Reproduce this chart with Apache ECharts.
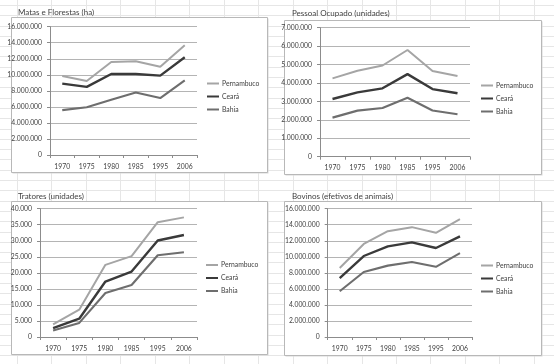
<!DOCTYPE html>
<html>
<head>
<meta charset="utf-8">
<script src="https://cdn.jsdelivr.net/npm/echarts@6/dist/echarts.min.js"></script>
<style>
html,body{margin:0;padding:0;background:#fff;}
#c{width:554px;height:364px;}
</style>
</head>
<body>
<div id="c"></div>
<script>
// ---- data ----
const years = ['1970','1975','1980','1985','1995','2006'];
const seriesNames = ['Pernambuco','Ceará','Bahia'];

const titles = ['Matas e Florestas (ha)','Pessoal Ocupado (unidades)','Tratores (unidades)','Bovinos (efetivos de animais)'];

// Matas e Florestas (ha)
const matasPernambuco = [9850000, 9230000, 11600000, 11700000, 11000000, 13700000];
const matasCeara      = [8900000, 8500000, 10100000, 10100000, 9900000, 12200000];
const matasBahia      = [5600000, 5950000, 6900000, 7800000, 7100000, 9300000];

// Pessoal Ocupado (unidades)
const pessoalPernambuco = [4250000, 4660000, 4950000, 5790000, 4650000, 4380000];
const pessoalCeara      = [3130000, 3490000, 3710000, 4480000, 3670000, 3440000];
const pessoalBahia      = [2120000, 2500000, 2640000, 3200000, 2510000, 2300000];

// Tratores (unidades)
const tratoresPernambuco = [3950, 8500, 22500, 25200, 35800, 37300];
const tratoresCeara      = [2800, 5700, 17300, 20400, 30100, 31800];
const tratoresBahia      = [2000, 4400, 13700, 16200, 25500, 26400];

// Bovinos (efetivos de animais)
const bovinosPernambuco = [8600000, 11600000, 13200000, 13700000, 13000000, 14700000];
const bovinosCeara      = [7350000, 10100000, 11300000, 11800000, 11100000, 12550000];
const bovinosBahia      = [5700000, 8100000, 8900000, 9350000, 8750000, 10450000];

// y-axis scales
const yMax = [16000000, 7000000, 40000, 16000000];
const yInterval = [2000000, 1000000, 5000, 2000000];

const panels = [
  [matasPernambuco, matasCeara, matasBahia],
  [pessoalPernambuco, pessoalCeara, pessoalBahia],
  [tratoresPernambuco, tratoresCeara, tratoresBahia],
  [bovinosPernambuco, bovinosCeara, bovinosBahia]
];

// ---- layout / style ----
const colors = ['#a5a5a5', '#3a3a3a', '#6e6e6e'];
const lineWidths = [2, 2.4, 2.1];
const font = 'Lato, "Liberation Sans", sans-serif';
const txt = '#3f3f3f';

const gridPos = [
  {left: 50, top: 26.7, width: 147, height: 128.3},
  {left: 320, top: 27.7, width: 150, height: 129},
  {left: 40, top: 208.7, width: 157, height: 128.3},
  {left: 327.7, top: 208.7, width: 144.3, height: 128.3}
];
const boxPos = [
  {x: 11.5, y: 17.5, w: 256, h: 155},
  {x: 284.5, y: 20.5, w: 257, h: 154},
  {x: 11.5, y: 201.5, w: 256, h: 153},
  {x: 284.5, y: 201.5, w: 257, h: 154}
];
const titlePos = [
  {left: 18, top: 8},
  {left: 292, top: 9},
  {left: 18, top: 192},
  {left: 292, top: 192}
];
const legendPos = [
  {left: 207, top: 77},
  {left: 481, top: 79},
  {left: 206, top: 258.5},
  {left: 481, top: 259}
];

function fmt(v){ return String(v).replace(/\B(?=(\d{3})+(?!\d))/g, '.'); }

// background spreadsheet grid
const graphics = [];
for (let k = 0; k < 17; k++) {
  const x = Math.round(17 + 34.45 * k) + 0.5;
  graphics.push({type:'line', z:-10, silent:true, shape:{x1:x,y1:0,x2:x,y2:364}, style:{stroke:'#e6e6e6', lineWidth:1}});
}
for (let k = -18; k < 18; k++) {
  const y = Math.round(180 + 10.3 * k) + 0.5;
  if (y < 0 || y > 364) continue;
  graphics.push({type:'line', z:-10, silent:true, shape:{x1:0,y1:y,x2:554,y2:y}, style:{stroke:'#e6e6e6', lineWidth:1}});
}
boxPos.forEach(b => {
  graphics.push({type:'rect', z:-5, silent:true, shape:{x:b.x+1,y:b.y+1,width:b.w,height:b.h}, style:{fill:'#d8d8d8'}});
  graphics.push({type:'rect', z:-4, silent:true, shape:{x:b.x,y:b.y,width:b.w,height:b.h}, style:{fill:'#ffffff', stroke:'#b8b8b8', lineWidth:1}});
});

const option = {
  animation: false,
  backgroundColor: '#ffffff',
  textStyle: {fontFamily: font},
  graphic: graphics,
  title: titles.map((t, i) => ({
    text: t, left: titlePos[i].left, top: titlePos[i].top, padding: 0,
    textStyle: {fontSize: 8, fontWeight: 'normal', color: txt, fontFamily: font}
  })),
  legend: legendPos.map((p, i) => ({
    data: seriesNames, orient: 'vertical', left: p.left, top: p.top, padding: 0,
    icon: 'rect', itemWidth: 12, itemHeight: 2, itemGap: 0,
    selectedMode: false,
    textStyle: {fontSize: 6.8, color: txt, fontFamily: font, lineHeight: 13, padding: [0,0,0,-2]}
  })),
  grid: gridPos.map(g => ({left: g.left, top: g.top, width: g.width, height: g.height, containLabel: false})),
  xAxis: gridPos.map((g, i) => ({
    type: 'category', gridIndex: i, data: years, boundaryGap: true,
    axisLine: {lineStyle: {color: '#8c8c8c', width: 1}},
    axisTick: {show: true, length: 3, inside: false, lineStyle: {color: '#8c8c8c'}},
    axisLabel: {fontSize: 6.8, color: txt, margin: 8, fontFamily: font}
  })),
  yAxis: gridPos.map((g, i) => ({
    type: 'value', gridIndex: i, min: 0, max: yMax[i], interval: yInterval[i],
    axisLine: {show: true, lineStyle: {color: '#8c8c8c', width: 1}},
    axisTick: {show: true, length: 3, lineStyle: {color: '#8c8c8c'}},
    splitLine: {lineStyle: {color: '#b4b4b4', width: 1}},
    axisLabel: {fontSize: 6.8, color: txt, margin: 8, formatter: fmt, fontFamily: font}
  })),
  series: []
};

panels.forEach((p, i) => {
  p.forEach((d, j) => {
    option.series.push({
      type: 'line', name: seriesNames[j], xAxisIndex: i, yAxisIndex: i,
      data: d, symbol: 'none', smooth: false,
      color: colors[j],
      lineStyle: {color: colors[j], width: lineWidths[j]},
      itemStyle: {color: colors[j]}
    });
  });
});

const chart = echarts.init(document.getElementById('c'), null, {renderer: 'canvas'});
chart.setOption(option);
</script>
</body>
</html>
